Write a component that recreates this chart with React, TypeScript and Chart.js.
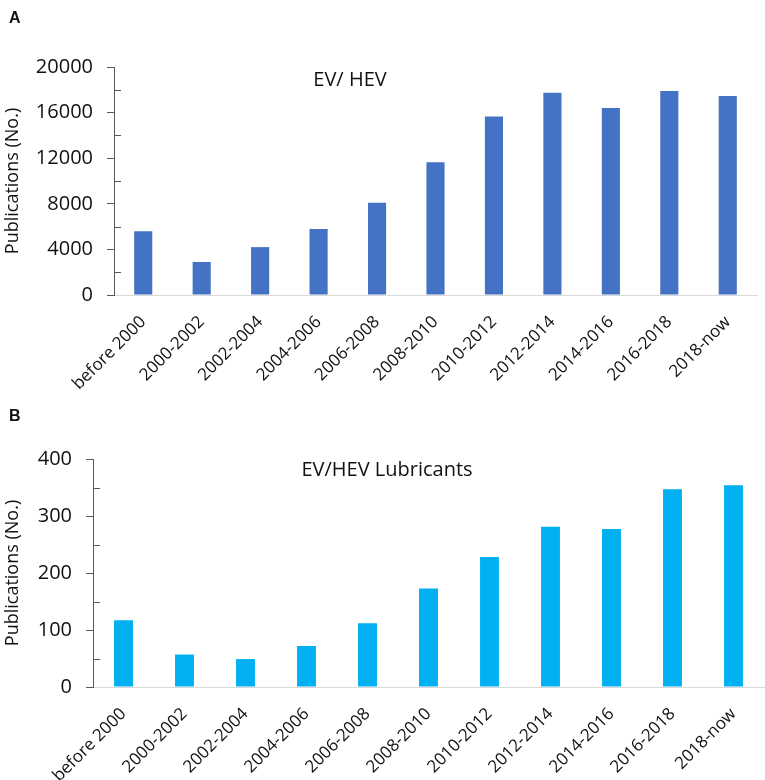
import { useEffect, useRef } from 'react'
import { Chart, registerables } from 'chart.js'

Chart.register(...registerables)

const periods = [
  'before 2000',
  '2000-2002',
  '2002-2004',
  '2004-2006',
  '2006-2008',
  '2008-2010',
  '2010-2012',
  '2012-2014',
  '2014-2016',
  '2016-2018',
  '2018-now'
]

// Panel A: all EV/HEV publications
const evHevCounts = [5600, 2900, 4200, 5800, 8100, 11650, 15650, 17750, 16400, 17900, 17450]
const evHevTicks = [0, 4000, 8000, 12000, 16000, 20000]

// Panel B: EV/HEV lubricant publications
const lubricantCounts = [117, 57, 49, 72, 112, 173, 228, 281, 277, 347, 354]
const lubricantTicks = [0, 100, 200, 300, 400]

const FONT = '"Open Sans", Lato, sans-serif'
const TEXT = '#111'
const AXIS = '#595959'

// letter, panel title and the small inner ticks between the labelled ones
const panelDecor = {
  id: 'panelDecor',
  afterDraw(chart: any, _args: any, opts: any) {
    const { ctx } = chart
    const y = chart.scales.y
    ctx.save()

    ctx.strokeStyle = AXIS
    ctx.lineWidth = 1
    const ticks = y.ticks
    for (let i = 0; i < ticks.length - 1; i++) {
      const mid = (ticks[i].value + ticks[i + 1].value) / 2
      const py = Math.round(y.getPixelForValue(mid)) + 0.5
      ctx.beginPath()
      ctx.moveTo(y.right, py)
      ctx.lineTo(y.right + 7, py)
      ctx.stroke()
    }

    ctx.fillStyle = TEXT
    ctx.textBaseline = 'middle'
    ctx.textAlign = 'left'
    ctx.font = 'bold 16px "Liberation Sans", Arial, sans-serif'
    ctx.fillText(opts.letter, 9, opts.letterY)

    ctx.textAlign = 'center'
    ctx.font = `20px ${FONT}`
    ctx.fillText(opts.title, opts.titleX, opts.titleY)
    ctx.restore()
  }
}

interface PanelProps {
  letter: string
  letterY: number
  title: string
  titleX: number
  titleY: number
  values: number[]
  tickValues: number[]
  color: string
  axisLeft: number
  axisRight: number
  plotTop: number
  plotBottom: number
}

function Panel(p: PanelProps) {
  const canvasRef = useRef<HTMLCanvasElement | null>(null)
  const chartRef = useRef<Chart | null>(null)

  useEffect(() => {
    const ctx = canvasRef.current?.getContext('2d')
    if (!ctx) return

    chartRef.current = new Chart(ctx, {
      type: 'bar',
      data: {
        labels: periods,
        datasets: [
          {
            data: p.values,
            backgroundColor: p.color,
            borderWidth: 0,
            categoryPercentage: 1,
            barPercentage: 0.31
          }
        ]
      },
      options: {
        responsive: false,
        animation: false,
        devicePixelRatio: 1,
        layout: {
          padding: { top: p.plotTop, right: 765 - p.axisRight, left: 0, bottom: 0 }
        },
        plugins: {
          legend: { display: false },
          tooltip: { enabled: false },
          panelDecor: {
            letter: p.letter,
            letterY: p.letterY,
            title: p.title,
            titleX: p.titleX,
            titleY: p.titleY
          }
        } as any,
        scales: {
          x: {
            grid: { display: false, drawTicks: false },
            border: { display: true, color: '#d9d9d9', width: 1 },
            ticks: {
              color: TEXT,
              font: { family: FONT, size: 17 },
              minRotation: 45,
              maxRotation: 45,
              autoSkip: false,
              padding: 17
            },
            afterFit: (scale: any) => {
              scale.height = 390 - p.plotBottom
            }
          },
          y: {
            min: p.tickValues[0],
            max: p.tickValues[p.tickValues.length - 1],
            afterBuildTicks: (scale: any) => {
              scale.ticks = p.tickValues.map((v) => ({ value: v }))
            },
            grid: {
              drawOnChartArea: false,
              drawTicks: true,
              tickLength: 7,
              color: AXIS
            },
            border: { display: true, color: AXIS, width: 1 },
            ticks: {
              color: TEXT,
              font: { family: FONT, size: 20 },
              padding: 14,
              callback: (v: any) => String(v)
            },
            title: {
              display: true,
              text: 'Publications (No.)',
              color: TEXT,
              font: { family: FONT, size: 18 },
              padding: { top: 2, bottom: 0 }
            },
            afterFit: (scale: any) => {
              scale.width = p.axisLeft
            }
          }
        }
      },
      plugins: [panelDecor]
    })

    return () => {
      chartRef.current?.destroy()
      chartRef.current = null
    }
  }, [p])

  return <canvas ref={canvasRef} width={765} height={390} style={{ display: 'block' }} />
}

export default function App() {
  return (
    <div style={{ position: 'absolute', left: 0, top: 0, width: 765, height: 780, background: '#fff' }}>
      <Panel
        letter="A"
        letterY={19}
        title="EV/ HEV"
        titleX={350}
        titleY={80}
        values={evHevCounts}
        tickValues={evHevTicks}
        color="#4472C4"
        axisLeft={114}
        axisRight={757}
        plotTop={67}
        plotBottom={295}
      />
      <Panel
        letter="B"
        letterY={27}
        title="EV/HEV Lubricants"
        titleX={387}
        titleY={80}
        values={lubricantCounts}
        tickValues={lubricantTicks}
        color="#00B0F0"
        axisLeft={93}
        axisRight={764}
        plotTop={69}
        plotBottom={297}
      />
    </div>
  )
}
